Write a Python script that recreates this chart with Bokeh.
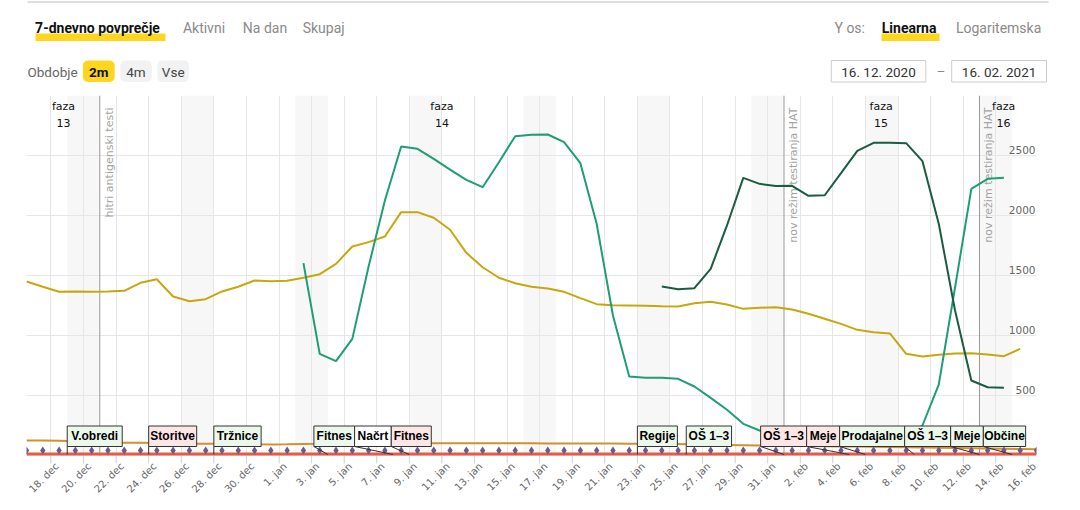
import math
from datetime import date, timedelta
from bokeh.plotting import figure
from bokeh.models import Range1d, FixedTicker, BoxAnnotation, LinearAxis
from bokeh.layouts import column
from bokeh.core.properties import value
from bokeh.embed import file_html
from bokeh.resources import INLINE

# ---------------- data ----------------
START = date(2020, 12, 16)
END = date(2021, 2, 16)
MONTHS = ["jan", "feb", "mar", "apr", "maj", "jun", "jul", "avg", "sep", "okt", "nov", "dec"]

yellow_start = date(2020, 12, 16)
yellow_vals = [1450, 1406, 1364, 1367, 1364, 1367, 1372, 1439, 1469, 1325,
               1286, 1303, 1367, 1406, 1458, 1453, 1456, 1481, 1511, 1597,
               1742, 1778, 1825, 2028, 2028, 1981, 1881, 1689, 1569, 1481,
               1436, 1406, 1392, 1364, 1311, 1261, 1253, 1250, 1247, 1244,
               1242, 1269, 1281, 1258, 1222, 1231, 1236, 1217, 1181, 1139,
               1097, 1047, 1028, 1017, 847, 825, 839, 850, 853, 842,
               828, 889]

teal_start = date(2021, 1, 2)
teal_vals = [1603, 847, 786, 972, 1575, 2125, 2575, 2556, 2472, 2383,
             2297, 2236, 2444, 2661, 2672, 2675, 2611, 2436, 1931, 1167,
             658, 647, 647, 639, 575, 480, 381, 264, 208, 170,
             140, 120, 108, 100, 98, 100, 115, 160, 250, 590,
             1400, 2222, 2306, 2314]

dark_start = date(2021, 1, 24)
dark_vals = [1408, 1386, 1394, 1556, 1917, 2314, 2264, 2245, 2247, 2164,
             2169, 2353, 2539, 2606, 2606, 2603, 2453, 1931, 1208, 625,
             569, 564]

orange_start = date(2020, 12, 16)
orange_vals = [125, 125, 122, 118, 114, 110, 107, 106, 104, 100,
               98, 97, 97, 95, 93, 92, 93, 95, 97, 100,
               102, 103, 104, 104, 104, 103, 103, 103, 103, 102,
               102, 102, 101, 100, 100, 100, 99, 98, 97, 96,
               95, 92, 90, 88, 86, 84, 83, 82, 80, 78,
               76, 74, 72, 70, 68, 66, 64, 62, 60, 58,
               56, 54, 52]

y_ticks = [500, 1000, 1500, 2000, 2500]
Y_TOP = 3000

event_dates = [date(2020, 12, 21), date(2021, 2, 1), date(2021, 2, 13)]
event_texts = ["hitri antigenski testi", "nov režim testiranja HAT", "nov režim testiranja HAT"]

phase_names = ["faza\n13", "faza\n14", "faza\n15", "faza\n16"]

flag_dates = [date(2020, 12, 19), date(2020, 12, 24), date(2020, 12, 28),
              date(2021, 1, 4), date(2021, 1, 8), date(2021, 1, 9),
              date(2021, 1, 23), date(2021, 1, 26), date(2021, 2, 1),
              date(2021, 2, 5), date(2021, 2, 6), date(2021, 2, 9),
              date(2021, 2, 13), date(2021, 2, 15)]
flag_texts = ["V.obredi", "Storitve", "Tržnice", "Fitnes", "Načrt", "Fitnes",
              "Regije", "OŠ 1–3", "OŠ 1–3", "Meje", "Prodajalne", "OŠ 1–3",
              "Meje", "Občine"]
flag_kinds = ["open", "close", "open", "open", "plan", "close",
              "open", "open", "close", "close", "open", "open",
              "open", "open"]

# ---------------- style ----------------
phase_label_day = [2.77, 26.0, 52.96, 60.48]          # label anchor positions (days)
flag_w_px = [55, 48, 47.3, 40.7, 36.7, 40, 40, 45.3, 46, 33, 65, 46, 32.7, 42.3]
GROUP_SHIFT = 0.6                                       # how far a crowded group slides left
KIND_FILL = {"open": "#ecf8ec", "close": "#fde6e6", "plan": "#ffffff"}
FONT = "DejaVu Sans"
LABEL_SHIFT_PX = 6
TICK_PX = 8
PLOT_PX = 360          # height of the 0..Y_TOP value area


def dx(d, noon=True):
    return (d - START).days + (0.5 if noon else 0.0)


def series_x(start, vals):
    return [dx(start + timedelta(days=i)) for i in range(len(vals))]


tick_dates = []
d = START + timedelta(days=2)
while d <= END:
    tick_dates.append(d)
    d += timedelta(days=2)
tick_x = [dx(t, noon=False) for t in tick_dates]
tick_labels = [f"{t.day}. {MONTHS[t.month - 1]}" for t in tick_dates]
last_main = yellow_start + timedelta(days=len(yellow_vals) - 1)
grid_x = [dx(t, noon=False) for t in tick_dates if t <= last_main]


def no_align(fig):
    try:
        fig.frame_align = False
    except Exception:
        pass


# ---------------- header ----------------
h = figure(width=1080, height=95, x_range=Range1d(0, 1080), y_range=Range1d(95, 0),
           output_backend="svg", toolbar_location=None,
           x_axis_location=None, y_axis_location=None,
           min_border_left=0, min_border_right=0, min_border_top=0, min_border_bottom=0)
no_align(h)
h.outline_line_color = None
h.grid.visible = False
h.background_fill_color = "white"
h.border_fill_color = "white"

h.segment(x0=[27], y0=[1.5], x1=[1048], y1=[1.5], line_color="#dddddd", line_width=2)
h.quad(left=[35, 881], right=[165, 939], top=[33, 33], bottom=[40.5, 40.5],
       fill_color="#ffd61f", line_color=None)
h.text(x=[34.6], y=[27.5], text=["7-dnevno povprečje"], text_font=value("Roboto"),
       text_font_style="bold", text_font_size="14px", text_color="#111111",
       text_baseline="middle", text_align="left")
h.text(x=[182.4, 242.3, 302.2], y=[27.5] * 3, text=["Aktivni", "Na dan", "Skupaj"],
       text_font=value("Roboto"), text_font_size="14px", text_color="#8a8a8a",
       text_baseline="middle", text_align="left")
h.text(x=[834], y=[27.5], text=["Y os:"], text_font=value("Roboto"), text_font_size="14px",
       text_color="#8a8a8a", text_baseline="middle", text_align="left")
h.text(x=[881.3], y=[27.5], text=["Linearna"], text_font=value("Roboto"),
       text_font_style="bold", text_font_size="14px", text_color="#111111",
       text_baseline="middle", text_align="left")
h.text(x=[955.4], y=[27.5], text=["Logaritemska"], text_font=value("Roboto"),
       text_font_size="14px", text_color="#8a8a8a", text_baseline="middle", text_align="left")

h.text(x=[27], y=[71], text=["Obdobje"], text_font=value("Roboto"), text_font_size="13.5px",
       text_color="#666666", text_baseline="middle", text_align="left")
for l, r, c in [(82.4, 114.2, "#ffd61f"), (119.8, 151.3, "#f2f2f2"), (156.8, 188.6, "#f2f2f2")]:
    h.add_layout(BoxAnnotation(left=l, right=r, top=60, bottom=81.5, fill_color=c,
                               fill_alpha=1, line_color=None, border_radius=5,
                               level="underlay"))
h.text(x=[98.3], y=[71], text=["2m"], text_font=value("Roboto"), text_font_style="bold",
       text_font_size="13.5px", text_color="#111111", text_baseline="middle", text_align="center")
h.text(x=[135.5, 172.7], y=[71, 71], text=["4m", "Vse"], text_font=value("Roboto"),
       text_font_size="13.5px", text_color="#444444", text_baseline="middle", text_align="center")

h.quad(left=[830.8, 951.2], right=[925.3, 1046], top=[60, 60], bottom=[81.5, 81.5],
       fill_color="white", line_color="#cccccc", line_width=1)
h.text(x=[878, 998.6], y=[71.5, 71.5], text=[START.strftime("%d. %m. %Y"), END.strftime("%d. %m. %Y")],
       text_font=value("Roboto"), text_font_size="13.5px", text_color="#333333",
       text_baseline="middle", text_align="center")
h.text(x=[940.5], y=[71], text=["–"], text_font=value("Roboto"), text_font_size="13px",
       text_color="#888888", text_baseline="middle", text_align="center")

# ---------------- main chart ----------------
X0, X1 = 0.5, dx(END)
FRAME_L, FRAME_R = 26, 44
FRAME_W = 1080 - FRAME_L - FRAME_R
ppd = FRAME_W / (X1 - X0)
upp = Y_TOP / PLOT_PX                     # value units per pixel
Y_MIN = -TICK_PX * upp                    # frame reaches down over the tick marks

p = figure(width=1080, height=415, x_range=Range1d(X0, X1), y_range=Range1d(Y_MIN, Y_TOP),
           output_backend="svg", toolbar_location=None,
           x_axis_location=None, y_axis_location=None,
           min_border_left=FRAME_L, min_border_right=FRAME_R, min_border_top=0,
           min_border_bottom=415 - PLOT_PX - TICK_PX)
no_align(p)
p.extra_y_ranges = {"tl": Range1d(-5 - TICK_PX, PLOT_PX - 5)}
shift = LABEL_SHIFT_PX / ppd
p.extra_x_ranges = {"lab": Range1d(X0 - shift, X1 - shift)}
p.outline_line_color = None
p.background_fill_color = "white"
p.border_fill_color = "white"

# weekend bands
wk_left = []
d = START
while d <= END:
    if d.weekday() == 5:
        wk_left.append(dx(d, noon=False))
    d += timedelta(days=1)
p.quad(left=wk_left, right=[v + 2 for v in wk_left], bottom=0, top=Y_TOP,
       fill_color="#f7f7f7", line_color=None, level="image")

p.xgrid.ticker = FixedTicker(ticks=grid_x)
p.xgrid.grid_line_color = "#e6e6e6"
p.ygrid.ticker = FixedTicker(ticks=[0] + y_ticks + [Y_TOP])
p.ygrid.grid_line_color = "#e6e6e6"

# tick marks below the zero line
p.segment(x0=tick_x, y0=0, x1=tick_x, y1=Y_MIN, line_color="#ccd6eb", line_width=1)

# date labels, rotated, set slightly right of their ticks
lab_axis = LinearAxis(x_range_name="lab", ticker=FixedTicker(ticks=tick_x),
                      major_label_overrides={t: lab for t, lab in zip(tick_x, tick_labels)},
                      major_label_orientation=math.pi / 4, axis_line_color=None,
                      major_tick_line_color=None, major_tick_out=0, major_tick_in=0,
                      minor_tick_line_color=None, major_label_standoff=1,
                      major_label_text_font=FONT, major_label_text_font_size="10px",
                      major_label_text_color="#666666")
p.add_layout(lab_axis, "below")

# event lines
ev_x = [dx(e, noon=False) for e in event_dates]
p.segment(x0=ev_x, y0=0, x1=ev_x, y1=Y_TOP, line_color="#999999", line_width=1)
p.text(x=ev_x, y=Y_TOP, text=event_texts, angle=math.pi / 2, text_align="right",
       text_baseline="top", x_offset=3, y_offset=12, text_font=value(FONT),
       text_font_size="11px", text_color="#a3a3a3")

# series
p.line(series_x(orange_start, orange_vals), orange_vals, line_color="#d4902f", line_width=2)
p.line(series_x(yellow_start, yellow_vals), yellow_vals, line_color="#c8a70e", line_width=2)
p.line(series_x(teal_start, teal_vals), teal_vals, line_color="#1f9d77", line_width=2)
p.line(series_x(dark_start, dark_vals), dark_vals, line_color="#1a5c40", line_width=2)

# phase labels
p.text(x=phase_label_day, y=Y_TOP, text=phase_names, text_align="center", text_baseline="top",
       y_offset=4, text_font=value(FONT), text_font_size="11px", text_color="#111111",
       text_line_height=1.35)

# y labels inside plot
p.text(x=[X1] * len(y_ticks), y=y_ticks, text=[str(v) for v in y_ticks], text_align="right",
       text_baseline="bottom", x_offset=-1, y_offset=-2, text_font=value(FONT),
       text_font_size="10.5px", text_color="#666666")

# ---------------- timeline (measures) ----------------
n_days = (END - START).days + 1
mark_x = [dx(START + timedelta(days=i)) for i in range(n_days)]
BASE = -3.5
p.line(mark_x, [BASE for _ in mark_x], line_color="#e65a46", line_width=3, y_range_name="tl")
p.scatter(mark_x, [0 for _ in mark_x], marker="diamond", size=8, fill_color="#6b5a8c",
          line_color=None, y_range_name="tl")

# flag layout: boxes anchored at event, overlapping groups slide left and spread
targets = [(dx(fd, noon=False) - X0) * ppd for fd in flag_dates]
groups = [[i] for i in range(len(targets))]


def place(g):
    offs, acc = [], 0.0
    for i in g:
        offs.append(acc)
        acc += flag_w_px[i]
    left = sum(targets[i] - o for i, o in zip(g, offs)) / len(g)
    if len(g) > 1:
        left -= GROUP_SHIFT * sum(flag_w_px[i] for i in g) / len(g)
    left = max(2.0, min(left, FRAME_W - 7.7 - acc))
    return left, acc, offs


while True:
    pos = [place(g) for g in groups]
    merged = False
    for k in range(len(groups) - 1):
        if pos[k][0] + pos[k][1] > pos[k + 1][0] + 0.01:
            groups[k] = groups[k] + groups[k + 1]
            del groups[k + 1]
            merged = True
            break
    if not merged:
        break

box_left = [0.0] * len(targets)
for g in groups:
    left, acc, offs = place(g)
    for i, o in zip(g, offs):
        box_left[i] = left + o
bl = [X0 + v / ppd for v in box_left]
br = [X0 + (v + w) / ppd for v, w in zip(box_left, flag_w_px)]
ev_flag_x = [dx(fd, noon=False) for fd in flag_dates]

p.segment(x0=bl, y0=4, x1=ev_flag_x, y1=-4, line_color="#333333", line_width=1,
          y_range_name="tl")
p.quad(left=bl, right=br, bottom=4, top=24.5, fill_color=[KIND_FILL[k] for k in flag_kinds],
       line_color="#333333", line_width=1, y_range_name="tl")
p.text(x=[(a + b) / 2 for a, b in zip(bl, br)], y=14.5, text=flag_texts, text_align="center",
       text_baseline="middle", text_font=value("Liberation Sans"), text_font_style="bold",
       text_font_size="12px", text_color="#000000", y_range_name="tl")

layout = column(h, p, spacing=0)
open("out.html", "w").write(file_html(layout, INLINE))
